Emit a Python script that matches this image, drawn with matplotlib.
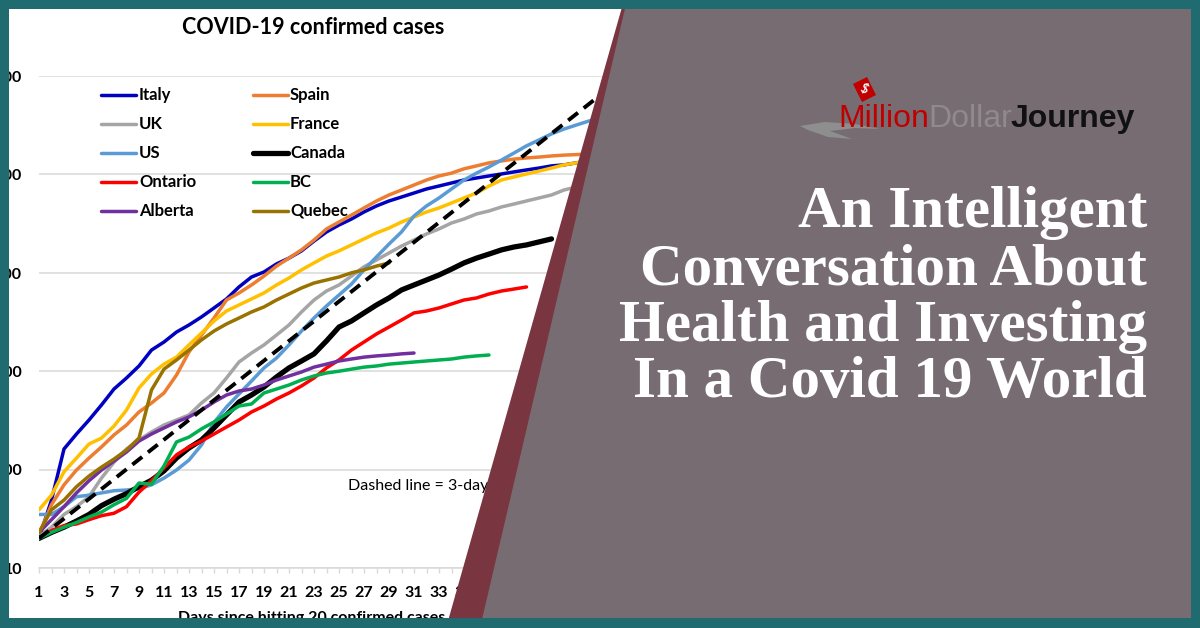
import matplotlib
matplotlib.use("Agg")
import matplotlib.pyplot as plt
from matplotlib.patches import Polygon, Rectangle
from matplotlib.lines import Line2D
from matplotlib.transforms import Affine2D
from matplotlib.ticker import FixedLocator, FixedFormatter, NullLocator

# ---------------- data (confirmed cases by day since hitting 20 cases) -------------
italy = [20, 49, 162, 230, 319, 454, 659, 853, 1130, 1640, 1980, 2500, 2950, 3560, 4390,
         5420, 7180, 9060, 10200, 12300, 14100, 16700, 21000, 26000, 30600, 35200, 41500,
         47800, 53700, 58900, 64700, 71100, 76200, 81800, 87700, 91900, 96400, 101000,
         106000, 111000, 116000, 122000, 125000, 131000, 137000, 140000, 143000]
spain = [22, 44, 70, 99, 131, 170, 225, 284, 385, 475, 601, 914, 1570, 2330, 3470, 5290,
         6240, 7520, 9270, 11700, 14100, 17100, 21500, 27900, 32800, 38600, 45600, 53700,
         61800, 69400, 78000, 87700, 96400, 103000, 114000, 122000, 131000, 137000, 143000,
         147000, 150000, 154000, 157000, 159000, 161000, 165000, 169000]
uk = [21, 26, 35, 42, 53, 82, 119, 162, 200, 241, 284, 319, 359, 475, 601, 853, 1240, 1530,
      1850, 2330, 2950, 4000, 5290, 6530, 7520, 9270, 11500, 13500, 15900, 18700, 21500,
      24800, 27900, 32100, 35200, 39600, 42500, 46700, 50000, 53700, 57600, 61800, 69400,
      74500, 80000, 85700, 91900]
france = [39, 55, 95, 131, 182, 209, 277, 403, 675, 937, 1180, 1390, 1850, 2440, 3240, 4090,
          4710, 5420, 6240, 7520, 8850, 10700, 12600, 14800, 16700, 19200, 22100, 25400,
          28500, 32800, 36900, 41500, 45600, 51200, 57600, 64700, 76200, 87700, 94200,
          101000, 108000, 116000, 125000, 131000, 137000, 143000, 147000]
us = [35, 35, 42, 53, 55, 58, 61, 62, 64, 70, 82, 99, 125, 178, 300, 433, 587, 795, 1080,
      1360, 1850, 2560, 3470, 4600, 5950, 7690, 10700, 14500, 19600, 26000, 37800, 47800,
      57600, 71100, 87700, 103000, 119000, 140000, 165000, 195000, 224000, 258000, 289000,
      318000, 349000, 374000, 402000]
canada = [20, 23, 26, 30, 35, 43, 50, 57, 67, 78, 97, 131, 166, 200, 265, 359, 486, 573, 691,
          873, 1080, 1270, 1500, 2030, 2810, 3240, 3910, 4710, 5550, 6690, 7520, 8450, 9500,
          10900, 12600, 14100, 15500, 17100, 18300, 19200, 20600, 22100]
ontario = [20, 24, 27, 28, 31, 34, 36, 42, 59, 77, 104, 141, 170, 195, 230, 271, 319, 385,
           443, 522, 601, 708, 853, 1080, 1300, 1640, 1980, 2390, 2810, 3310, 3910, 4090,
           4390, 4820, 5290, 5550, 6090, 6530, 6840, 7180]
bc = [20, 23, 26, 29, 33, 37, 44, 51, 73, 71, 109, 191, 214, 259, 305, 367, 443, 464, 601,
      659, 724, 814, 894, 959, 1000, 1050, 1100, 1130, 1180, 1210, 1240, 1270, 1300, 1330,
      1390, 1430, 1460]
alberta = [23, 31, 42, 58, 77, 99, 122, 151, 195, 230, 265, 305, 343, 403, 486, 573, 629,
           659, 724, 814, 894, 982, 1100, 1180, 1270, 1330, 1390, 1430, 1460, 1500, 1530]
quebec = [23, 39, 49, 67, 86, 106, 128, 158, 209, 644, 1050, 1300, 1640, 2080, 2560, 3020,
          3470, 4000, 4500, 5290, 6090, 7010, 7870, 8450, 9060, 10000, 10700, 11700, 12600]

doubling_days = [1, 47]
doubling_cases = [20, 825000]

series_names = ["Italy", "Spain", "UK", "France", "US", "Canada", "Ontario", "BC",
                "Alberta", "Quebec"]
series_values = [italy, spain, uk, france, us, canada, ontario, bc, alberta, quebec]
series_colors = ["#0000c0", "#ed7d31", "#a5a5a5", "#ffc000", "#5b9bd5", "#000000",
                 "#ff0000", "#00b050", "#7030a0", "#997300"]
series_widths = [2.5, 2.5, 2.5, 2.5, 2.5, 3.8, 2.5, 2.5, 2.5, 2.5]

y_ticks = [10, 100, 1000, 10000, 100000, 1000000]
y_tick_labels = ["10", "100", "1,000", "10,000", "100,000", "1,000,000"]

title_text = "COVID-19 confirmed cases"
x_title = "Days since hitting 20 confirmed cases"
note_text = "Dashed line = 3-day doubling"
headline = ["An Intelligent", "Conversation About", "Health and Investing",
            "In a Covid 19 World"]
logo_parts = ["Million", "Dollar", "Journey"]

# ---------------- figure ----------------
W, H = 1200, 628
plt.rcParams['font.family'] = ['Lato', 'DejaVu Sans']
fig = plt.figure(figsize=(12, 6.28), dpi=100)
fig.patch.set_facecolor("white")


def fx(x):
    return x / W


def fy(y):
    return 1 - y / H


pix = Affine2D().scale(1 / W, -1 / H).translate(0, 1) + fig.transFigure

ax_left, ax_right, ax_top, ax_bottom = 39, 639, 76, 568
ax = fig.add_axes([fx(ax_left), fy(ax_bottom), fx(ax_right) - fx(ax_left),
                   fy(ax_top) - fy(ax_bottom)])
ax.set_facecolor("none")
ax.set_yscale("log")
ax.set_xlim(1, 49)
ax.set_ylim(10, 1000000)

for name, vals, col, lw in zip(series_names, series_values, series_colors, series_widths):
    days = list(range(1, len(vals) + 1))
    ax.plot(days, vals, color=col, lw=lw, solid_joinstyle="round",
            solid_capstyle="round", zorder=3)
ax.plot(doubling_days, doubling_cases, color="black", lw=2.8, dashes=(3.2, 1.9), zorder=4)

ax.yaxis.set_major_locator(FixedLocator(y_ticks))
ax.yaxis.set_major_formatter(FixedFormatter(y_tick_labels))
ax.yaxis.set_minor_locator(NullLocator())
xt = list(range(1, 49))
ax.xaxis.set_major_locator(FixedLocator(xt))
ax.xaxis.set_major_formatter(FixedFormatter([str(d) if d % 2 == 1 else "" for d in xt]))

ax.grid(axis="y", color="#d9d9d9", lw=1.1, zorder=0)
for s in ["top", "right", "left"]:
    ax.spines[s].set_visible(False)
ax.spines["bottom"].set_color("#d9d9d9")
ax.spines["bottom"].set_linewidth(1.1)
ax.tick_params(axis="y", length=0, pad=12, labelsize=11.5)
ax.tick_params(axis="x", length=3.6, width=1, color="#d9d9d9", pad=9.5, labelsize=11.5)
for lab in ax.get_xticklabels() + ax.get_yticklabels():
    lab.set_fontweight("bold")

# title, axis title, note
fig.text(fx(313), fy(27), title_text, ha="center", va="center", fontsize=15.5,
         fontweight="bold", color="black")
fig.text(fx(178), fy(622), x_title, ha="left", va="baseline", fontsize=11.5,
         fontweight="bold", color="black")
fig.text(fx(348), fy(486), note_text, ha="left", va="center", fontsize=11.5,
         color="black")

# legend (two columns, no frame)
leg_rows = [95, 124, 153, 182, 211]
leg_cols = [(101, 136, 139), (253, 288, 290)]
for i, (name, col, lw) in enumerate(zip(series_names, series_colors, series_widths)):
    r, c = i // 2, i % 2
    x0, x1, xt0 = leg_cols[c]
    y = leg_rows[r]
    fig.add_artist(Line2D([x0, x1], [y, y], color=col, lw=lw, transform=pix,
                          solid_capstyle="round", zorder=5))
    fig.text(fx(xt0), fy(y), name, ha="left", va="center", fontsize=12,
             fontweight="bold", color="black", zorder=5)

# ---------------- banner overlay ----------------
maroon = "#7a3640"
panel = "#776c71"
teal = "#206b70"
fig.add_artist(Polygon([(623.5, 0), (1200, 0), (1200, 628), (446.2, 628)],
                       closed=True, facecolor=maroon, edgecolor="none",
                       transform=pix, zorder=20))
fig.add_artist(Polygon([(627.1, 0), (1200, 0), (1200, 628), (479.7, 628)],
                       closed=True, facecolor=panel, edgecolor="none",
                       transform=pix, zorder=21))

# logo
fig.add_artist(Polygon([(800, 126), (825, 122), (855, 124), (880, 129), (855, 128),
                        (830, 131), (852, 139), (828, 137), (808, 130)],
                       closed=True, facecolor="#8e8e8e", edgecolor="none",
                       transform=pix, zorder=22))
fig.add_artist(Polygon([(853, 84), (867, 77), (876, 95), (862, 102)], closed=True,
                       facecolor="#c00000", edgecolor="none", transform=pix, zorder=22))
fig.text(fx(864.5), fy(89.5), "$", ha="center", va="center", fontsize=9,
         fontweight="bold", color="white", rotation=-25, zorder=23)
logo_font = ["Liberation Sans", "DejaVu Sans"]
logo_colors = ["#c00000", "#8f8a8c", "#111111"]
logo_weights = ["normal", "normal", "bold"]
logo_x = [838, 928, 1011]
for txt, col, wt, x in zip(logo_parts, logo_colors, logo_weights, logo_x):
    fig.text(fx(x), fy(127), txt, ha="left", va="baseline", fontsize=23,
             family=logo_font, fontweight=wt, color=col, zorder=23)

# headline
head_base = [227, 285, 341, 397]
for line, yb in zip(headline, head_base):
    fig.text(fx(1147), fy(yb), line, ha="right", va="baseline", fontsize=42.5,
             family=["Liberation Serif", "DejaVu Serif"], fontweight="bold",
             color="white", zorder=23)

# teal frame
for (x, y, w, h) in [(0, 0, 1200, 9), (0, 618, 1200, 10), (0, 0, 9, 628), (1191, 0, 9, 628)]:
    fig.add_artist(Rectangle((x, y), w, h, facecolor=teal, edgecolor="none",
                             transform=pix, zorder=30))

fig.savefig("out.png", dpi=100)
